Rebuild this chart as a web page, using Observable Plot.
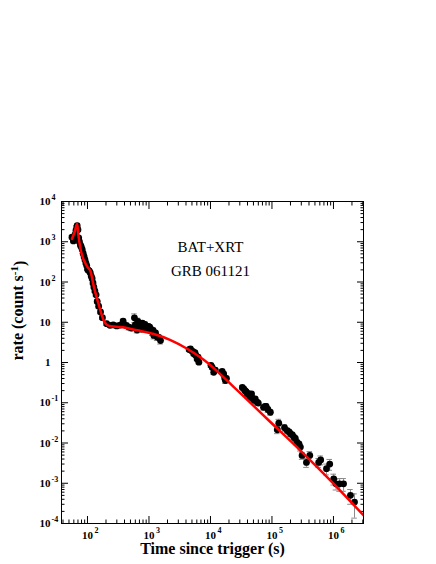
<!DOCTYPE html>
<html><head><meta charset="utf-8">
<script src="https://cdn.jsdelivr.net/npm/d3@7"></script>
<script src="https://cdn.jsdelivr.net/npm/@observablehq/plot@0.6"></script>
<style>body{margin:0;background:#fff}</style>
</head><body><div id="chart"></div>
<script>
// Observed light curve (BAT + XRT): time (s), rate (count/s), fractional error
const obsTime = [
  56, 59, 61, 63, 65, 67, 68, 70, 72, 74, 77, 79, 82, 85, 88, 91, 94, 97, 100, 103, 107, 111, 115, 119, 123, 127, 132, 138, 144, 152, 163, 175,
  205, 232, 262, 300, 340, 380, 430, 470, 520, 580, 600, 640, 660, 690, 720, 750, 780, 820, 860, 900, 934, 980, 1030, 1080, 1130, 1170, 1200, 1280, 1360, 1450, 1540,
  4500, 4730, 4950, 5200, 5350, 5600, 5800, 6070, 6300, 6480,
  10200, 10670, 11300, 12000, 15500, 16400, 17000, 17500, 18200,
  33000, 34800, 36500, 38000, 39400, 41000, 43000, 44600, 46600, 48000, 50600, 53500, 57300, 60000,
  72800, 78300, 80500, 86000, 94200,
  122000, 129000, 160000, 177000, 190000, 200000, 215000, 227000, 240000, 256000, 275000, 290000, 309000,
  364000, 412000, 575000, 620000, 770000, 870000, 1010000, 1100000, 1260000, 1460000, 1890000, 2200000
];
const obsRate = [
  1300, 1050, 1250, 1500, 1900, 2300, 2500, 2000, 1250, 1000, 820, 760, 650, 520, 430, 360, 300, 260, 210, 195, 190, 170, 140, 122, 95, 75, 60, 48, 33, 25, 18, 13,
  9.2, 8.4, 8.6, 8.1, 8.5, 10.6, 8.3, 7.6, 7.2, 12.9, 8.6, 6.4, 10.5, 7.6, 9.2, 6.8, 9.5, 8.0, 8.8, 7.2, 6.9, 7.9, 7.6, 6.6, 5.7, 6.3, 4.7, 5.4, 4.3, 4.2, 3.5,
  2.1, 2.19, 1.95, 1.85, 1.64, 1.75, 1.5, 1.23, 1.35, 1.02,
  0.85, 0.76, 0.57, 0.65, 0.6, 0.52, 0.42, 0.355, 0.40,
  0.24, 0.222, 0.2, 0.19, 0.167, 0.17, 0.15, 0.137, 0.167, 0.13, 0.114, 0.125, 0.103, 0.098,
  0.077, 0.081, 0.081, 0.068, 0.058,
  0.0213, 0.031, 0.024, 0.0204, 0.019, 0.017, 0.016, 0.0139, 0.013, 0.0104, 0.0095, 0.0079, 0.0049,
  0.0033, 0.0049, 0.0033, 0.0038, 0.0023, 0.003, 0.00129, 0.00097, 0.00097, 0.00097, 0.0005, 0.00034
];
const obsErr = [
  0.1, 0.1, 0.1, 0.1, 0.1, 0.1, 0.1, 0.1, 0.1, 0.1, 0.1, 0.1, 0.1, 0.1, 0.1, 0.1, 0.1, 0.1, 0.1, 0.1, 0.1, 0.1, 0.1, 0.1, 0.1, 0.1, 0.1, 0.1, 0.1, 0.1, 0.1, 0.1,
  0.1, 0.1, 0.1, 0.12, 0.12, 0.12, 0.12, 0.15, 0.15, 0.25, 0.15, 0.15, 0.2, 0.15, 0.15, 0.15, 0.15, 0.15, 0.15, 0.15, 0.15, 0.15, 0.15, 0.15, 0.18, 0.15, 0.18, 0.15, 0.18, 0.15, 0.18,
  0.1, 0.1, 0.1, 0.1, 0.1, 0.1, 0.1, 0.1, 0.1, 0.1,
  0.12, 0.12, 0.12, 0.12, 0.12, 0.12, 0.12, 0.15, 0.12,
  0.12, 0.12, 0.12, 0.12, 0.12, 0.12, 0.12, 0.12, 0.12, 0.12, 0.12, 0.12, 0.12, 0.12,
  0.15, 0.15, 0.15, 0.15, 0.15,
  0.2, 0.25, 0.2, 0.15, 0.15, 0.15, 0.15, 0.15, 0.15, 0.15, 0.15, 0.2, 0.2,
  0.25, 0.25, 0.25, 0.25, 0.3, 0.3, 0.3, 0.3, 0.35, 0.35, 0.4, 0.6
];
// Fitted model curve (red)
const modelTime = [56, 62, 68, 71, 77, 99, 112, 126, 150, 184, 205, 240, 344, 643, 1200, 2240, 4170, 7770, 24000, 83000, 290000, 1010000, 3100000];
const modelRate = [1180, 1800, 2790, 1500, 670, 240, 185, 80, 30, 11, 8.7, 8.0, 7.6, 6.3, 5.1, 3.6, 2.2, 1.17, 0.245, 0.040, 0.0065, 0.00097, 0.000158];

// Axis ticks and labels
const xTicks = [1e2, 1e3, 1e4, 1e5, 1e6];
const xTickBase = ["10", "10", "10", "10", "10"];
const xTickExp = ["2", "3", "4", "5", "6"];
const yTicks = [1e4, 1e3, 1e2, 1e1, 1, 1e-1, 1e-2, 1e-3, 1e-4];
const yTickBase = ["10", "10", "10", "10", "1", "10", "10", "10", "10"];
const yTickExp = ["4", "3", "2", "", "", "-1", "-2", "-3", "-4"];
const titleLines = ["BAT+XRT", "GRB 061121"];
const xLabel = "Time since trigger (s)";
const yLabel = "rate (count s";

const xDomain = [37.8, 3.08e6];
const yDomain = [1e-4, 1e4];

const points = obsTime.map((t, i) => ({t, r: obsRate[i], lo: obsRate[i] * (1 - obsErr[i]), hi: obsRate[i] * (1 + obsErr[i])}));
const model = modelTime.map((t, i) => ({t, r: modelRate[i]}));

const minorX = [], minorY = [];
for (let d = 10; d <= 1e6; d *= 10) for (let m = 2; m <= 9; m++) { const v = d * m; if (v > xDomain[0] && v < xDomain[1]) minorX.push(v); }
for (let d = 1e-4; d < 1e4; d *= 10) for (let m = 2; m <= 9; m++) minorY.push(d * m);

const font = "Liberation Serif, Times New Roman, serif";
const noText = () => "";
const tickAxis = (fn, anchor, ticks, size) => fn({anchor, ticks, tickSize: size, tickFormat: noText, label: null});

const chart = Plot.plot({
  width: 436,
  height: 564,
  marginLeft: 61,
  marginRight: 73,
  marginTop: 201,
  marginBottom: 41,
  style: {fontFamily: font, background: "#fff"},
  x: {type: "log", domain: xDomain, axis: null},
  y: {type: "log", domain: yDomain, axis: null},
  marks: [
    // ticks (inside, all four sides)
    tickAxis(Plot.axisX, "bottom", xTicks, -7),
    tickAxis(Plot.axisX, "bottom", minorX, -3.5),
    tickAxis(Plot.axisX, "top", xTicks, -7),
    tickAxis(Plot.axisX, "top", minorX, -3.5),
    tickAxis(Plot.axisY, "left", yTicks, -7),
    tickAxis(Plot.axisY, "left", minorY, -3.5),
    tickAxis(Plot.axisY, "right", yTicks, -7),
    tickAxis(Plot.axisY, "right", minorY, -3.5),
    // tick labels
    Plot.text(yTicks, {y: d => d, frameAnchor: "left", dx: -11, textAnchor: "end", text: (d, i) => yTickBase[i], fontSize: 11, fontWeight: "bold"}),
    Plot.text(yTicks, {y: d => d, frameAnchor: "left", dx: -10, dy: -4, textAnchor: "start", text: (d, i) => yTickExp[i], fontSize: 8, fontWeight: "bold"}),
    Plot.text(xTicks, {x: d => d, frameAnchor: "bottom", dy: 15, text: (d, i) => xTickBase[i], fontSize: 11, fontWeight: "bold"}),
    Plot.text(xTicks, {x: d => d, frameAnchor: "bottom", dy: 9, dx: 7, textAnchor: "start", text: (d, i) => xTickExp[i], fontSize: 8, fontWeight: "bold"}),
    // axis titles
    Plot.text([xLabel], {frameAnchor: "bottom", dy: 30, fontSize: 16, fontWeight: "bold"}),
    Plot.text([yLabel], {frameAnchor: "left", dx: -44, dy: -2, rotate: -90, fontSize: 16, fontWeight: "bold"}),
    // error bars
    Plot.ruleX(points, {x: "t", y1: "lo", y2: "hi", stroke: "#8a8a8a", strokeWidth: 1}),
    Plot.ruleY(points, {y: "lo", x1: d => d.t / 1.11, x2: d => d.t * 1.11, stroke: "#8a8a8a", strokeWidth: 1}),
    Plot.ruleY(points, {y: "hi", x1: d => d.t / 1.11, x2: d => d.t * 1.11, stroke: "#8a8a8a", strokeWidth: 1}),
    // data points
    Plot.dot(points, {x: "t", y: "r", r: 3.4, fill: "black"}),
    // model
    Plot.line(model, {x: "t", y: "r", stroke: "#ff0000", strokeWidth: 2.5, curve: "monotone-x", clip: true}),
    // in-plot labels
    Plot.text([titleLines[0]], {frameAnchor: "top", dx: -2, dy: 50, fontSize: 15, lineAnchor: "bottom"}),
    Plot.text([titleLines[1]], {frameAnchor: "top", dx: -2, dy: 74, fontSize: 15, lineAnchor: "bottom"}),
    Plot.frame({stroke: "black", strokeWidth: 1})
  ]
});
document.getElementById("chart").appendChild(chart);

// superscript "-1" on the y axis title
const svg = d3.select(chart);
svg.selectAll("text").filter(function() { return this.textContent === yLabel; }).each(function() {
  const t = d3.select(this);
  t.text("");
  t.append("tspan").text(yLabel);
  t.append("tspan").attr("dy", "-0.45em").attr("font-size", "11px").text("-1");
  t.append("tspan").attr("dy", "0.45em").text(")");
});
</script>
</body></html>
